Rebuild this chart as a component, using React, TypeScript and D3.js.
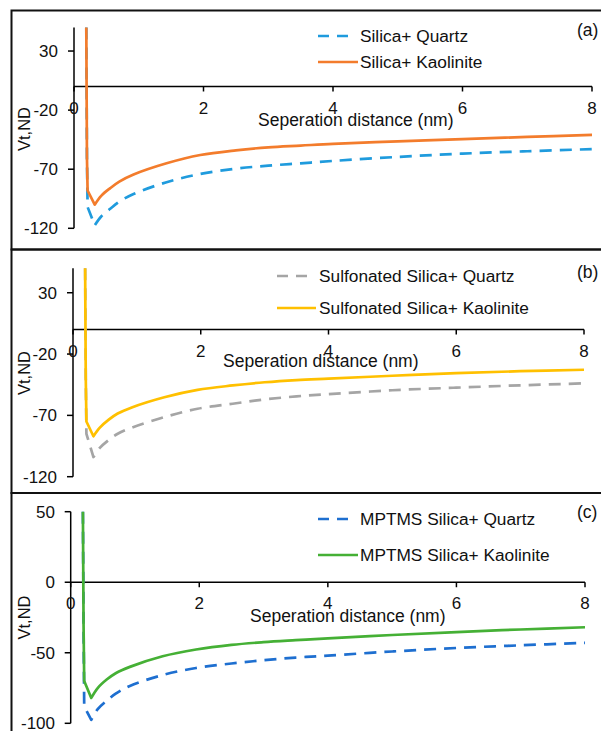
import React from "react";
import * as d3 from "d3";

// ---- data ----
const distance = [0.19, 0.2, 0.21, 0.32, 0.42, 0.56, 0.7, 0.92, 1.43, 1.95, 2.5, 3, 3.5, 4, 5, 6, 7, 8];

const silicaQuartz = [50, -60, -102, -117.5, -110, -103.5, -97.5, -91, -81, -74, -69.5, -67, -65, -63, -59.6, -56.8, -54.8, -53];
const silicaKaolinite = [50, -60, -88, -100, -92.5, -86, -80.5, -74.5, -65, -58, -54, -51.5, -50, -48.5, -46.5, -44.5, -42.7, -41];

const sulfQuartz = [50, -40, -85, -104, -96.5, -90, -85, -80, -71.4, -64.6, -60.5, -57, -54.5, -52.7, -49.5, -47.4, -45.5, -43.9];
const sulfKaolinite = [50, -40, -75, -87, -80, -73.5, -68.5, -63.5, -55.2, -49.2, -45.6, -43, -41.2, -40, -37.7, -35.5, -34, -32.8];

const mptmsQuartz = [50, -30, -88, -97.6, -90, -84, -79, -73.5, -65.8, -60.8, -57.6, -55.3, -53.4, -52, -49.1, -46.6, -44.7, -43];
const mptmsKaolinite = [50, -30, -70, -82, -75, -69, -64.5, -60, -52.5, -47.7, -44.4, -42.5, -41.1, -39.8, -37.4, -35.3, -33.5, -31.9];

// index of the potential minimum (sharp corner)
const minIndex = 3;

const xTicks = [0, 2, 4, 6, 8];
const yTicksAB = [30, -20, -70, -120];
const yTicksC = [50, 0, -50, -100];

const panelLabels = ["(a)", "(b)", "(c)"];
const xTitle = "Seperation distance (nm)";
const yTitle = "Vt,ND";

const FONT = "'Liberation Sans', Arial, Helvetica, sans-serif";

type Series = { name: string; values: number[]; color: string; dashed: boolean };

type PanelCfg = {
  frameTop: number;
  frameBottom: number;
  xRange: [number, number];
  yDomain: [number, number];
  yRange: [number, number];
  yTicks: number[];
  series: Series[];
  legendSampleX: [number, number];
  legendSolidEnd: number;
  legendTextX: number;
  legendY: [number, number];
  label: string;
  labelY: number;
  xTickBaseline: number;
  xTitleX: number;
  xTitleBaseline: number;
  yTickRight: number;
  yTitleCenter: number;
};

const panels: PanelCfg[] = [
  {
    frameTop: 10.5,
    frameBottom: 249.5,
    xRange: [74, 592],
    yDomain: [-120, 50],
    yRange: [228.3, 27.4],
    yTicks: yTicksAB,
    series: [
      { name: "Silica+ Quartz", values: silicaQuartz, color: "#1F9BDD", dashed: true },
      { name: "Silica+ Kaolinite", values: silicaKaolinite, color: "#F37C2C", dashed: false },
    ],
    legendSampleX: [318, 348],
    legendSolidEnd: 358,
    legendTextX: 360,
    legendY: [36, 62],
    label: panelLabels[0],
    labelY: 30,
    xTickBaseline: 113.5,
    xTitleX: 258,
    xTitleBaseline: 126,
    yTickRight: 58,
    yTitleCenter: 129,
  },
  {
    frameTop: 249.5,
    frameBottom: 493,
    xRange: [73, 584],
    yDomain: [-120, 50],
    yRange: [476.7, 268.2],
    yTicks: yTicksAB,
    series: [
      { name: "Sulfonated Silica+ Quartz", values: sulfQuartz, color: "#A5A5A5", dashed: true },
      { name: "Sulfonated Silica+ Kaolinite", values: sulfKaolinite, color: "#FFC000", dashed: false },
    ],
    legendSampleX: [277, 308],
    legendSolidEnd: 316,
    legendTextX: 319,
    legendY: [276, 308],
    label: panelLabels[1],
    labelY: 272,
    xTickBaseline: 356.5,
    xTitleX: 223,
    xTitleBaseline: 366.5,
    yTickRight: 57,
    yTitleCenter: 373,
  },
  {
    frameTop: 493,
    frameBottom: 760,
    xRange: [70.7, 585],
    yDomain: [-100, 50],
    yRange: [723.3, 511.7],
    yTicks: yTicksC,
    series: [
      { name: "MPTMS Silica+ Quartz", values: mptmsQuartz, color: "#1E6FD0", dashed: true },
      { name: "MPTMS Silica+ Kaolinite", values: mptmsKaolinite, color: "#45B035", dashed: false },
    ],
    legendSampleX: [318, 348],
    legendSolidEnd: 358,
    legendTextX: 360,
    legendY: [519, 555],
    label: panelLabels[2],
    labelY: 512,
    xTickBaseline: 609.3,
    xTitleX: 250,
    xTitleBaseline: 621.5,
    yTickRight: 55,
    yTitleCenter: 617.5,
  },
];

function Panel({ cfg }: { cfg: PanelCfg }) {
  const x = d3.scaleLinear().domain([0, 8]).range(cfg.xRange);
  const y = d3.scaleLinear().domain(cfg.yDomain).range(cfg.yRange);
  const steep = d3
    .line<[number, number]>()
    .x((d) => x(d[0]))
    .y((d) => y(d[1]))
    .curve(d3.curveLinear);
  const smooth = d3
    .line<[number, number]>()
    .x((d) => x(d[0]))
    .y((d) => y(d[1]))
    .curve(d3.curveCatmullRom.alpha(0.5));
  const y0 = y(0);
  const xAxisLeft = x(0);
  const fs = 17;

  const pathFor = (s: Series) => {
    const pts = distance.map((d, i) => [d, s.values[i]] as [number, number]);
    const a = steep(pts.slice(0, minIndex + 1)) || "";
    const b = smooth(pts.slice(minIndex)) || "";
    return a + b.replace(/^M[^LC]*/, "");
  };

  return (
    <g>
      <rect
        x={11.5}
        y={cfg.frameTop}
        width={600}
        height={cfg.frameBottom - cfg.frameTop}
        fill="none"
        stroke="#111"
        strokeWidth={2}
      />
      <line x1={xAxisLeft} x2={xAxisLeft} y1={y(cfg.yDomain[1])} y2={y(cfg.yDomain[0])} stroke="#000" strokeWidth={1.5} />
      {cfg.yTicks.map((t) => (
        <g key={"yt" + t}>
          <line x1={xAxisLeft - 6} x2={xAxisLeft} y1={y(t)} y2={y(t)} stroke="#000" strokeWidth={1.5} />
          <text x={cfg.yTickRight} y={y(t) + 6} textAnchor="end" fontSize={fs} fontFamily={FONT} fill="#111">
            {t}
          </text>
        </g>
      ))}
      <line x1={xAxisLeft} x2={x(8)} y1={y0} y2={y0} stroke="#000" strokeWidth={1.5} />
      {xTicks.map((t) => (
        <g key={"xt" + t}>
          <line x1={x(t)} x2={x(t)} y1={y0} y2={y0 + 5} stroke="#000" strokeWidth={1.5} />
          <text x={x(t)} y={cfg.xTickBaseline} textAnchor="middle" fontSize={fs} fontFamily={FONT} fill="#111">
            {t}
          </text>
        </g>
      ))}
      <text x={cfg.xTitleX} y={cfg.xTitleBaseline} fontSize={17.5} fontFamily={FONT} fill="#111">
        {xTitle}
      </text>
      <text
        transform={`translate(30, ${cfg.yTitleCenter}) rotate(-90)`}
        textAnchor="middle"
        fontSize={16.5}
        fontFamily={FONT}
        fill="#111"
      >
        {yTitle}
      </text>
      {cfg.series.map((s) => (
        <path
          key={s.name}
          d={pathFor(s)}
          fill="none"
          stroke={s.color}
          strokeWidth={2.7}
          strokeDasharray={s.dashed ? "12 8" : undefined}
          strokeLinejoin="round"
        />
      ))}
      {cfg.series.map((s, i) => (
        <g key={"lg" + s.name}>
          <line
            x1={cfg.legendSampleX[0]}
            x2={s.dashed ? cfg.legendSampleX[1] : cfg.legendSolidEnd}
            y1={cfg.legendY[i]}
            y2={cfg.legendY[i]}
            stroke={s.color}
            strokeWidth={2.7}
            strokeDasharray={s.dashed ? "11 8" : undefined}
          />
          <text x={cfg.legendTextX} y={cfg.legendY[i] + 6} fontSize={17.3} fontFamily={FONT} fill="#111">
            {s.name}
          </text>
        </g>
      ))}
      <text x={577} y={cfg.labelY + 6} fontSize={17.5} fontFamily={FONT} fill="#111">
        {cfg.label}
      </text>
    </g>
  );
}

export default function App() {
  return (
    <svg
      width={601}
      height={731}
      viewBox="0 0 601 731"
      style={{ position: "absolute", left: 0, top: 0, background: "#fff" }}
    >
      <rect x={0} y={0} width={601} height={731} fill="#fff" />
      {panels.map((p, i) => (
        <Panel key={i} cfg={p} />
      ))}
    </svg>
  );
}
